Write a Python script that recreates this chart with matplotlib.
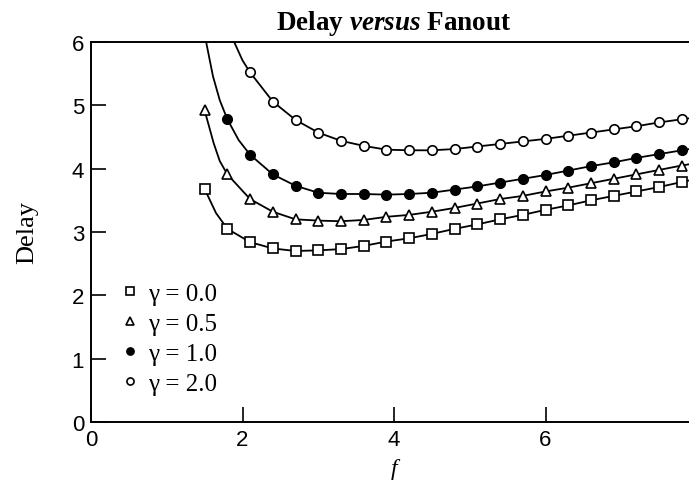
import matplotlib
matplotlib.use('Agg')
import matplotlib.pyplot as plt

# fanout values where the markers sit
fanout = [1.5, 1.8, 2.1, 2.4, 2.7, 3.0, 3.3, 3.6, 3.9, 4.2, 4.5,
          4.8, 5.1, 5.4, 5.7, 6.0, 6.3, 6.6, 6.9, 7.2, 7.5, 7.8]

# delay, one list per gamma
delay_g00 = [3.68, 3.05, 2.84, 2.74, 2.70, 2.71, 2.73, 2.78, 2.85, 2.90, 2.97,
             3.05, 3.12, 3.20, 3.27, 3.35, 3.42, 3.50, 3.57, 3.64, 3.71, 3.79]
delay_g05 = [4.92, 3.91, 3.52, 3.32, 3.20, 3.18, 3.17, 3.19, 3.24, 3.27, 3.32,
             3.38, 3.45, 3.52, 3.57, 3.64, 3.70, 3.77, 3.84, 3.91, 3.98, 4.05]
delay_g10 = [4.78, 4.22, 3.91, 3.73, 3.62, 3.60, 3.60, 3.59, 3.60, 3.62,
             3.67, 3.72, 3.78, 3.84, 3.90, 3.97, 4.04, 4.10, 4.17, 4.23, 4.29]
delay_g20 = [5.52, 5.06, 4.77, 4.57, 4.44, 4.36, 4.30, 4.29, 4.29, 4.31,
             4.35, 4.39, 4.43, 4.47, 4.52, 4.57, 4.62, 4.67, 4.73, 4.78]

# extra points on the curves where there is no marker (ends, steep parts)
extra_f_g00 = [1.65, 8.0]
extra_d_g00 = [3.30, 3.84]
extra_f_g05 = [1.62, 1.70, 8.0]
extra_d_g05 = [4.40, 4.12, 4.09]
extra_f_g10 = [1.52, 1.61, 1.70, 1.95, 8.0]
extra_d_g10 = [6.00, 5.46, 5.08, 4.45, 4.33]
extra_f_g20 = [1.89, 2.0, 8.0]
extra_d_g20 = [6.00, 5.71, 4.81]

labels = ['\u03b3 = 0.0', '\u03b3 = 0.5', '\u03b3 = 1.0', '\u03b3 = 2.0']

plt.rcParams['mathtext.fontset'] = 'custom'
plt.rcParams['mathtext.it'] = 'Liberation Serif:italic:bold'
tick_font = ['Liberation Sans Narrow', 'Liberation Sans', 'DejaVu Sans']

fig = plt.figure(figsize=(6.89, 4.89), dpi=100)
ax = fig.add_axes([91 / 689, 66 / 489, 606 / 689, 380 / 489])


def curve(fx, dy, ef, ed):
    pts = sorted(zip(list(fx) + ef, list(dy) + ed))
    return [p[0] for p in pts], [p[1] for p in pts]


series = [
    (fanout, delay_g00, extra_f_g00, extra_d_g00, 's', 'white', 7.0),
    (fanout, delay_g05, extra_f_g05, extra_d_g05, '^', 'white', 7.5),
    (fanout[1:], delay_g10, extra_f_g10, extra_d_g10, 'o', 'black', 6.8),
    (fanout[2:], delay_g20, extra_f_g20, extra_d_g20, 'o', 'white', 6.8),
]

for (fx, dy, ef, ed, mk, fc, ms), lab in zip(series, labels):
    cx, cy = curve(fx, dy, ef, ed)
    ax.plot(cx, cy, '-', color='black', lw=1.3, zorder=2)
    ax.plot(fx, dy, linestyle='none', marker=mk, markersize=ms,
            markerfacecolor=fc, markeredgecolor='black', markeredgewidth=1.2,
            label=lab, zorder=3)

ax.set_xlim(0, 8)
ax.set_ylim(0, 6)
ax.set_xticks([0, 2, 4, 6, 8])
ax.set_yticks([0, 1, 2, 3, 4, 5, 6])
ax.tick_params(direction='in', length=11, width=1.2, pad=5, labelsize=16)
for lab in ax.get_xticklabels() + ax.get_yticklabels():
    lab.set_family(tick_font)
for sp in ax.spines.values():
    sp.set_linewidth(1.4)

ax.set_title(r'Delay $versus$ Fanout', fontsize=19.5, fontweight='bold',
             family='Liberation Serif', pad=9)
ax.set_ylabel('Delay', fontsize=19, family='Liberation Serif', labelpad=24)
ax.set_xlabel('f', fontsize=17, family='Liberation Serif', style='italic',
              labelpad=6)

leg = ax.legend(loc='lower left', bbox_to_anchor=(0.035, 0.045), borderaxespad=0,
                frameon=False, handlelength=0.6, handletextpad=0.45,
                labelspacing=0.3, markerscale=0.75,
                prop={'family': 'Liberation Serif', 'size': 18})

fig.savefig('out.png', dpi=100)
